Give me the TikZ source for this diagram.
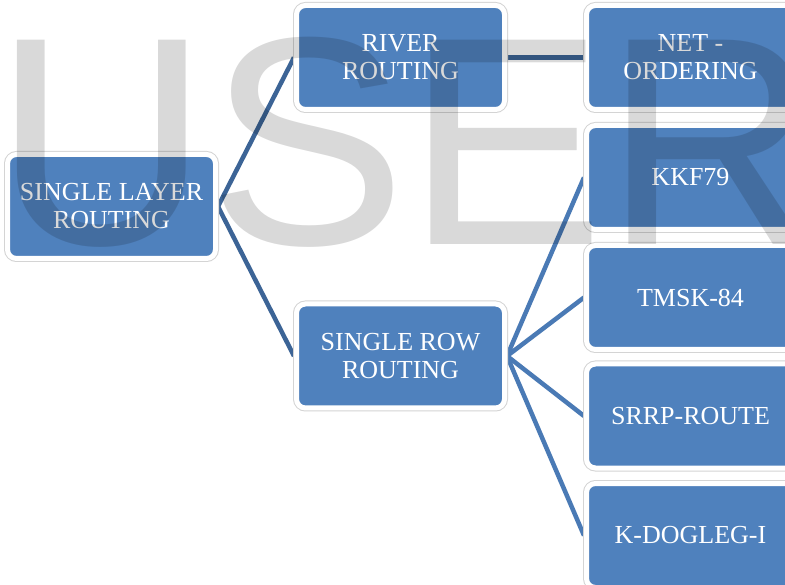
\documentclass[tikz,border=0pt]{standalone}
\usepackage{fontspec}
\setmainfont{Liberation Serif}
\newfontfamily\wmfont{Liberation Sans}
\usetikzlibrary{backgrounds}
\definecolor{boxblue}{RGB}{79,129,189}
\definecolor{lineA}{RGB}{60,100,150}
\definecolor{lineB}{RGB}{74,122,181}
\begin{document}
\begin{tikzpicture}[x=1pt,y=-1pt,
  box/.style={rectangle, rounded corners=9pt, fill=boxblue, draw=white,
    line width=5pt, minimum width=208pt, minimum height=104pt, inner sep=0pt,
    align=center, text=white, font=\fontsize{26}{28}\selectfont,
    preaction={draw=black!17, line width=7pt}},
  connA/.style={draw=lineA, line width=4.5pt},
  connB/.style={draw=lineB, line width=4.5pt},
  wm/.style={anchor=base west, inner sep=0pt, text=black, text opacity=0.15,
    font=\wmfont\fontsize{297}{297}\selectfont}]
\useasboundingbox (0,0) rectangle (785,585);
\clip (0,0) rectangle (785,585);
\node[box] (L1) at (111.5,206.5) {SINGLE LAYER\\ROUTING};
\node[box] (RIV) at (400.5,57.5) {RIVER\\ROUTING};
\node[box] (SRR) at (400.5,356) {SINGLE ROW\\ROUTING};
\node[box] (NET) at (690.5,57.5) {NET -\\ORDERING};
\node[box] (KKF) at (690.5,177.5) {KKF79};
\node[box] (TMSK) at (690.5,297.5) {TMSK-84};
\node[box] (SRRP) at (690.5,416) {SRRP-ROUTE};
\node[box] (KDOG) at (690.5,535.5) {K-DOGLEG-I};
\begin{scope}[on background layer]
  \fill[white] (0,0) rectangle (785,585);
  \draw[connA] (L1.east) -- (RIV.west);
  \draw[connA] (L1.east) -- (SRR.west);
  \draw[connA] (RIV.east) -- (NET.west);
  \draw[connB] (SRR.east) -- (KKF.west);
  \draw[connB] (SRR.east) -- (TMSK.west);
  \draw[connB] (SRR.east) -- (SRRP.west);
  \draw[connB] (SRR.east) -- (KDOG.west);
\end{scope}
\node[wm] (WM) at (-6,245) {USER};
\end{tikzpicture}
\end{document}
